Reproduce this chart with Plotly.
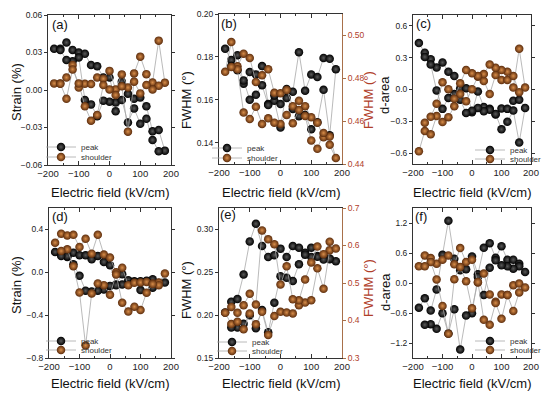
import plotly.graph_objects as go

# Electric field loop: up sweep -180 -> 180, then down sweep 160 -> -160
FIELD = [-180, -160, -140, -120, -100, -80, -60, -40, -20, 0, 20, 40, 60, 80, 100, 120, 140, 160, 180,
         160, 140, 120, 100, 80, 60, 40, 20, 0, -20, -40, -60, -80, -100, -120, -140, -160]

# (a) strain
strain_a_peak = [0.033, 0.033, 0.038, 0.032, 0.030, 0.029, 0.020, 0.019, 0.010, 0.010, -0.010, 0.0067, -0.003, -0.007, -0.006, -0.013, -0.033, -0.032, -0.0485,
                 -0.049, -0.040, -0.023, -0.027, -0.0147, -0.026, -0.008, -0.017, -0.0093, -0.0085, -0.021, -0.0115, -0.008, 0.026, 0.023, 0.024, 0.032]
strain_a_shoulder = [0.0053, 0.0053, 0.010, 0.020, 0.002, 0.005, 0.0048, 0.010, 0.009, 0.0153, 0.0005, 0.0125, 0.002, 0.0133, 0.0267, 0.0127, 0.006, 0.0395, 0.0059,
                     0.0035, 0.0005, 0.004, -0.0027, 0.0067, -0.0333, 0.003, -0.004, 0.0005, 0.004, -0.020, -0.0245, -0.013, 0.0053, 0.0165, -0.007, 0.005]
# (b) FWHM
fwhm_b_peak = [0.1838, 0.1785, 0.1808, 0.1675, 0.1729, 0.1718, 0.1757, 0.158, 0.1595, 0.147, 0.165, 0.1637, 0.1822, 0.1642, 0.1718, 0.1706, 0.1795, 0.1791, 0.1742,
               0.1434, 0.1646, 0.1495, 0.1462, 0.1529, 0.1523, 0.1557, 0.1608, 0.158, 0.162, 0.1575, 0.1668, 0.1623, 0.160, 0.169, 0.1738, 0.1757]
fwhm_b_shoulder = [0.483, 0.4969, 0.4856, 0.4915, 0.4895, 0.4783, 0.4814, 0.4842, 0.4732, 0.473, 0.4745, 0.467, 0.4695, 0.467, 0.4618, 0.4593, 0.4525, 0.4528, 0.4428,
                   0.449, 0.4545, 0.4471, 0.451, 0.4624, 0.4652, 0.459, 0.4629, 0.4587, 0.4593, 0.4613, 0.4587, 0.4667, 0.461, 0.464, 0.4842, 0.4853]
# (c) d-area
darea_c_peak = [0.436, 0.346, 0.285, 0.207, 0.254, 0.167, 0.127, 0.012, 0.012, -0.213, -0.019, -0.164, -0.182, -0.235, -0.179, -0.182, -0.105, -0.096, -0.173,
                -0.498, -0.198, -0.303, -0.374, -0.23, -0.19, -0.204, -0.173, -0.20, -0.220, -0.096, -0.043, -0.080, -0.182, -0.009, 0.235, 0.306]
darea_c_shoulder = [-0.581, -0.390, -0.421, -0.250, -0.306, -0.260, -0.157, -0.043, -0.111, 0.003, 0.12, 0.080, -0.043, 0.136, 0.090, 0.090, 0.018, 0.383, 0.018,
                    -0.025, 0.127, 0.167, 0.183, 0.204, 0.235, 0.145, 0.127, 0.152, 0.183, 0.059, -0.087, 0.003, 0.068, -0.133, -0.257, -0.312]
# (d) strain
strain_d_peak = [0.190, 0.168, 0.143, 0.183, 0.16, 0.159, 0.122, 0.152, 0.097, 0.066, -0.115, -0.019, -0.074, -0.084, -0.084, -0.084, -0.065, -0.105, -0.096,
                 -0.10, -0.144, -0.08, -0.166, -0.09, -0.114, -0.114, -0.121, -0.127, -0.16, -0.172, -0.18, -0.172, -0.033, 0.075, 0.15, 0.152]
strain_d_shoulder = [0.276, 0.360, 0.344, 0.350, 0.236, 0.313, 0.174, 0.350, 0.165, 0.137, 0.0, 0.043, -0.12, -0.098, -0.095, -0.09, -0.105, -0.096, -0.012,
                     -0.12, -0.11, -0.19, -0.352, -0.321, -0.367, -0.284, -0.02, -0.21, -0.12, -0.104, -0.197, -0.683, -0.188, 0.057, 0.214, 0.199]
# (e) FWHM
fwhm_e_peak = [0.203, 0.2157, 0.2188, 0.2474, 0.286, 0.3066, 0.2807, 0.2679, 0.270, 0.2776, 0.2679, 0.2807, 0.2787, 0.2729, 0.2787, 0.2691, 0.2687, 0.2652, 0.2629,
               0.266, 0.2648, 0.268, 0.2679, 0.2706, 0.2594, 0.2397, 0.2435, 0.2455, 0.2145, 0.18, 0.206, 0.1848, 0.2, 0.19, 0.1855, 0.1855]
fwhm_e_shoulder = [0.4205, 0.3905, 0.3967, 0.3765, 0.4187, 0.3897, 0.4231, 0.3615, 0.4117, 0.4231, 0.4213, 0.4187, 0.4407, 0.4477, 0.4538, 0.5391, 0.4846, 0.5875, 0.5919,
                   0.6103, 0.5769, 0.5971, 0.5549, 0.5092, 0.4538, 0.4565, 0.5444, 0.4961, 0.6033, 0.6165, 0.6402, 0.4424, 0.4714, 0.4407, 0.4205, 0.4363]
# (f) d-area
darea_f_peak = [-0.493, -0.307, -0.552, -0.129, 0.565, 1.246, 0.486, 0.254, 0.275, 0.532, 0.175, 0.704, 0.797, 0.506, 0.737, 0.466, 0.466, 0.387, 0.221,
                0.334, 0.287, 0.334, 0.354, 0.453, 0.307, -0.241, 0.122, -0.605, -0.651, -1.332, -0.526, -1.01, -0.605, -0.916, -0.823, -0.836]
darea_f_shoulder = [0.334, 0.552, 0.499, 0.387, 0.466, 0.552, 0.373, 0.698, 0.420, 0.466, 0.010, 0.188, -0.228, -0.373, -0.228, -0.241, -0.043, -0.010, -0.089,
                    -0.188, -0.559, -0.24, -0.717, -0.40, -0.836, -0.737, 0.02, -0.506, 0.036, 0.320, 0.076, -1.015, -0.459, 0.069, 0.420, 0.334]

X_TICKS = [-200, -100, 0, 100, 200]
FONT = "Liberation Sans, Arial, sans-serif"
RIGHT_COLOR = "#b0402a"
RIGHT_LINE = "#a8704a"
W, H = 550, 397

def px_x(p):
    return p / W

def px_y(p):
    return 1 - p / H

# panel plot-area boxes in pixels (left, right, top, bottom)
boxes = {
    1: (48, 171, 15, 165),
    2: (219, 342, 14, 164),
    3: (413, 531, 15, 164),
    4: (49, 171, 208, 358),
    5: (219, 342, 208, 358),
    6: (413, 531, 208, 358),
}

fig = go.Figure()

def peak_trace(y, xa, ya, leg):
    return go.Scatter(x=FIELD, y=y, xaxis=xa, yaxis=ya, mode="lines+markers", name="peak",
                      legend=leg, showlegend=True,
                      line=dict(color="#a8a8a8", width=0.8),
                      marker=dict(size=8.5, color="#000000", line=dict(width=0),
                                  gradient=dict(type="radial", color="#5a5a5a")))

def shoulder_trace(y, xa, ya, leg):
    return go.Scatter(x=FIELD, y=y, xaxis=xa, yaxis=ya, mode="lines+markers", name="shoulder",
                      legend=leg, showlegend=True,
                      line=dict(color="#a8a8a8", width=0.8),
                      marker=dict(size=8.5, color="#5c2c0c", line=dict(width=0),
                                  gradient=dict(type="radial", color="#d98e4a")))

# legend ids: peak/shoulder for each panel
LEG = {1: ("legend", "legend2"), 2: ("legend3", "legend4"), 3: ("legend5", "legend6"),
       4: ("legend7", "legend8"), 5: ("legend9", "legend10"), 6: ("legend11", "legend12")}

fig.add_trace(peak_trace(strain_a_peak, "x", "y", LEG[1][0]))
fig.add_trace(shoulder_trace(strain_a_shoulder, "x", "y", LEG[1][1]))
fig.add_trace(peak_trace(fwhm_b_peak, "x2", "y2", LEG[2][0]))
fig.add_trace(shoulder_trace(fwhm_b_shoulder, "x2", "y7", LEG[2][1]))
fig.add_trace(peak_trace(darea_c_peak, "x3", "y3", LEG[3][0]))
fig.add_trace(shoulder_trace(darea_c_shoulder, "x3", "y3", LEG[3][1]))
fig.add_trace(peak_trace(strain_d_peak, "x4", "y4", LEG[4][0]))
fig.add_trace(shoulder_trace(strain_d_shoulder, "x4", "y4", LEG[4][1]))
fig.add_trace(peak_trace(fwhm_e_peak, "x5", "y5", LEG[5][0]))
fig.add_trace(shoulder_trace(fwhm_e_shoulder, "x5", "y8", LEG[5][1]))
fig.add_trace(peak_trace(darea_f_peak, "x6", "y6", LEG[6][0]))
fig.add_trace(shoulder_trace(darea_f_shoulder, "x6", "y6", LEG[6][1]))

axis_common = dict(showline=True, linecolor="#333333", linewidth=1, showgrid=False, zeroline=False,
                   ticklen=3, tickwidth=1, tickcolor="#333333", automargin=False)

x_common = dict(axis_common, ticks="inside", ticklen=4,
                minor=dict(ticks="inside", dtick=50, ticklen=2, tickcolor="#333333", showgrid=False),
                tickfont=dict(family=FONT, size=9.5, color="#222222"))
y_common = dict(axis_common, ticks="outside", tickfont=dict(family=FONT, size=8.5, color="#222222"))

y_specs = {
    1: dict(range=[-0.06, 0.06], tickvals=[-0.06, -0.03, 0.0, 0.03, 0.06], tickformat=".2f"),
    2: dict(range=[0.13, 0.20], tickvals=[0.14, 0.16, 0.18, 0.20], tickformat=".2f"),
    3: dict(range=[-0.7, 0.7], tickvals=[-0.6, -0.3, 0.0, 0.3, 0.6], tickformat=".1f"),
    4: dict(range=[-0.8, 0.6], tickvals=[-0.8, -0.4, 0.0, 0.4], tickformat=".1f"),
    5: dict(range=[0.15, 0.325], tickvals=[0.15, 0.20, 0.25, 0.30], tickformat=".2f"),
    6: dict(range=[-1.5, 1.5], tickvals=[-1.2, -0.6, 0.0, 0.6, 1.2], tickformat=".1f"),
}

layout = dict(width=W, height=H, margin=dict(l=0, r=0, t=0, b=0, pad=0, autoexpand=False),
              paper_bgcolor="white", plot_bgcolor="white", showlegend=True,
              font=dict(family=FONT, color="#111111"))

for i, (l, r, t, b) in boxes.items():
    sfx = "" if i == 1 else str(i)
    xa = dict(x_common, domain=[px_x(l), px_x(r)], range=[-200, 200], tickvals=X_TICKS,
              anchor="y" + sfx, mirror="ticks")
    ya = dict(y_common, domain=[px_y(b), px_y(t)], anchor="x" + sfx,
              mirror=(False if i in (2, 5) else "ticks"), **y_specs[i])
    layout["xaxis" + sfx] = xa
    layout["yaxis" + sfx] = ya

right_common = dict(y_common, side="right", linecolor=RIGHT_LINE, tickcolor=RIGHT_LINE,
                    tickfont=dict(family=FONT, size=8.5, color=RIGHT_COLOR))
layout["yaxis7"] = dict(right_common, overlaying="y2", anchor="x2", range=[0.44, 0.51],
                        tickvals=[0.44, 0.46, 0.48, 0.50], tickformat=".2f")
layout["yaxis8"] = dict(right_common, overlaying="y5", anchor="x5", range=[0.3, 0.7],
                        tickvals=[0.3, 0.4, 0.5, 0.6, 0.7], tickformat=".1f")

# legend marker centre positions in px for (peak, shoulder)
legend_pos = {1: ((61, 147), (61, 157)), 2: ((227, 148), (227, 158)), 3: ((490, 150), (490, 159)),
              4: ((61, 341), (61, 350)), 5: ((232, 342), (232, 351)), 6: ((490, 341), (490, 350))}
for i, (pk, sh) in legend_pos.items():
    for name, (mx, my) in zip(LEG[i], (pk, sh)):
        layout[name] = dict(x=px_x(mx - 20), y=px_y(my), xanchor="left", yanchor="middle",
                            bgcolor="rgba(0,0,0,0)", borderwidth=0, tracegroupgap=0,
                            font=dict(family=FONT, size=8, color="#333333"))

fig.update_layout(**layout)

annotations = []
# panel labels
for txt, (x, y) in {"(a)": (60, 24), "(b)": (229, 23), "(c)": (423, 23),
                    "(d)": (60, 216), "(e)": (228, 214), "(f)": (421, 216)}.items():
    annotations.append(dict(text=txt, x=px_x(x), y=px_y(y), xref="paper", yref="paper",
                            xanchor="center", yanchor="middle",
                            showarrow=False, font=dict(size=13, color="#111111")))
# x axis titles
for (l, r, t, b), yy in [(boxes[1], 192), (boxes[2], 192), (boxes[3], 192),
                         (boxes[4], 383), (boxes[5], 383), (boxes[6], 383)]:
    annotations.append(dict(text="Electric field (kV/cm)", x=px_x((l + r) / 2), y=px_y(yy),
                            xref="paper", yref="paper", showarrow=False,
                            xanchor="center", yanchor="middle",
                            font=dict(size=13, color="#111111")))
# y axis titles
for txt, x, y, col in [("Strain (%)", 16, 92, "#111111"), ("FWHM (°)", 186, 100, "#111111"),
                       ("FWHM (°)", 368, 100, RIGHT_COLOR), ("d-area", 385, 95, "#111111"),
                       ("Strain (%)", 16, 285, "#111111"), ("FWHM (°)", 186, 290, "#111111"),
                       ("FWHM (°)", 368, 288, RIGHT_COLOR), ("d-area", 385, 292, "#111111")]:
    annotations.append(dict(text=txt, x=px_x(x), y=px_y(y), xref="paper", yref="paper",
                            xanchor="center", yanchor="middle",
                            showarrow=False, textangle=-90, font=dict(size=13, color=col)))

fig.update_layout(annotations=annotations)
fig.write_html("out.html", config={"displayModeBar": False},
               post_script="document.body.style.margin='0';document.body.style.padding='0';")
